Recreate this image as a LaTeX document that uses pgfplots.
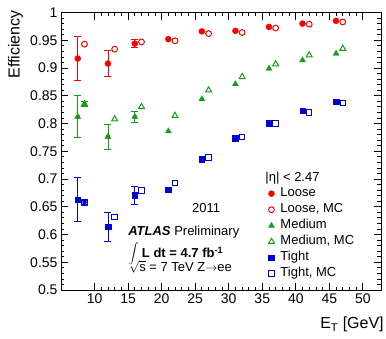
\documentclass[border=0pt]{standalone}
\usepackage{pgfplots}
\pgfplotsset{compat=1.18}
\usepackage{fontspec}
\setmainfont{Liberation Sans}
\definecolor{rred}{RGB}{250,0,0}
\definecolor{rgreen}{RGB}{20,160,20}
\definecolor{rblue}{RGB}{0,0,210}

\pgfplotstableread{
x y e
7.5 0.917 0.039
12 0.908 0.024
16 0.944 0.007
21 0.952 0
26 0.966 0
31 0.967 0
36 0.974 0
41 0.980 0
46 0.985 0
}\looseData
\pgfplotstableread{
x y e
8.5 0.943 0
13 0.934 0
17 0.947 0
22 0.949 0
27 0.962 0
32 0.964 0
37 0.972 0
42 0.979 0
47 0.983 0
}\looseMC
\pgfplotstableread{
x y e
7.5 0.812 0.038
12 0.776 0.023
16 0.812 0.010
21 0.786 0
26 0.844 0
31 0.871 0
36 0.899 0
41 0.914 0
46 0.926 0
}\mediumData
\pgfplotstableread{
x y e
8.5 0.835 0.004
13 0.808 0
17 0.830 0
22 0.814 0
27 0.860 0
32 0.884 0
37 0.907 0
42 0.923 0
47 0.935 0
}\mediumMC
\pgfplotstableread{
x y e
7.5 0.663 0.040
12 0.614 0.026
16 0.671 0.016
21 0.681 0
26 0.736 0
31 0.774 0
36 0.801 0
41 0.823 0
46 0.839 0
}\tightData
\pgfplotstableread{
x y e
8.5 0.658 0.004
13 0.631 0
17 0.679 0
22 0.693 0
27 0.739 0
32 0.776 0
37 0.800 0
42 0.820 0
47 0.837 0
}\tightMC

\begin{document}
\begin{tikzpicture}
\useasboundingbox (-61pt,-48pt) rectangle (325pt,290pt);
\begin{axis}[
  scale only axis, width=320pt, height=277.5pt,
  xmin=5, xmax=52.7, ymin=0.5, ymax=1,
  axis line style={line width=0.9pt},
  xtick={10,15,20,25,30,35,40,45,50}, minor x tick num=4,
  ytick={0.5,0.55,0.6,0.65,0.7,0.75,0.8,0.85,0.9,0.95,1},
  minor y tick num=4,
  major tick length=7pt, minor tick length=3.5pt,
  tick style={line width=0.8pt, black},
  /pgf/number format/assume math mode=true,
  yticklabel style={/pgf/number format/fixed, /pgf/number format/precision=2},
  tick label style={font=\fontsize{14}{16}\selectfont},
  ylabel={Efficiency},
  ylabel style={at={(axis description cs:-0.118,1.009)}, anchor=south east, inner sep=0pt, font=\fontsize{16}{18}\selectfont},
  xlabel={E\textsubscript{T} [GeV]},
  xlabel style={at={(axis description cs:1.009,-0.097)}, anchor=north east, inner sep=0pt, font=\fontsize{16}{18}\selectfont},
  legend style={at={(axis cs:35.9,0.6874)}, anchor=north west, draw=none, fill=none,
    inner sep=0pt, row sep=1pt, column sep=5pt,
    font=\fontsize{13}{15}\selectfont,
    nodes={inner sep=1pt, text height=9.5pt, text depth=3.5pt}},
  legend cell align=left,
  legend image code/.code={\draw[mark repeat=2,mark phase=2,#1] plot coordinates {(0pt,0pt) (5pt,0pt) (10pt,0pt)};},
  error bars/error bar style={line width=0.9pt},
  error bars/error mark options={rotate=90, line width=0.9pt, mark size=3.5pt},
]
% error bars only for the points whose uncertainty is visible
\addplot[forget plot, only marks, mark=none, rred, error bars/.cd, y dir=both, y explicit]
  table[x=x,y=y,y error=e] {
x y e
7.5 0.917 0.039
12 0.908 0.024
16 0.944 0.007
};
\addplot[forget plot, only marks, mark=none, rgreen, error bars/.cd, y dir=both, y explicit]
  table[x=x,y=y,y error=e] {
x y e
7.5 0.812 0.038
12 0.776 0.023
16 0.812 0.010
8.5 0.835 0.004
};
\addplot[forget plot, only marks, mark=none, rblue, error bars/.cd, y dir=both, y explicit]
  table[x=x,y=y,y error=e] {
x y e
7.5 0.663 0.040
12 0.614 0.026
16 0.671 0.016
8.5 0.658 0.004
};

\addplot[only marks, mark=*, rred, mark size=3pt] table[x=x,y=y] {\looseData};
\addlegendentry{Loose}
\addplot[only marks, mark=o, rred, mark size=2.9pt, mark options={line width=1pt}] table[x=x,y=y] {\looseMC};
\addlegendentry{Loose, MC}
\addplot[only marks, mark=triangle*, rgreen, mark size=3.4pt] table[x=x,y=y] {\mediumData};
\addlegendentry{Medium}
\addplot[only marks, mark=triangle, rgreen, mark size=3.4pt, mark options={line width=1pt}] table[x=x,y=y] {\mediumMC};
\addlegendentry{Medium, MC}
\addplot[only marks, mark=square*, rblue, mark size=2.8pt] table[x=x,y=y] {\tightData};
\addlegendentry{Tight}
\addplot[only marks, mark=square, rblue, mark size=2.7pt, mark options={line width=1pt}] table[x=x,y=y] {\tightMC};
\addlegendentry{Tight, MC}

\node[anchor=base west, inner sep=0pt, font=\fontsize{13}{15}\selectfont] at (axis cs:35.45,0.6964) {|η| < 2.47};
\node[anchor=center, inner sep=0pt, font=\fontsize{13}{15}\selectfont] at (axis cs:26.64,0.6477) {2011};
\node[anchor=base west, inner sep=0pt, font=\fontsize{13}{15}\selectfont] at (axis cs:15.0,0.599) {\textbf{\textit{ATLAS}} Preliminary};
\node[anchor=center, inner sep=0pt, font=\fontsize{12}{15}\selectfont] at (axis cs:15.85,0.5664) {$\displaystyle\int$};
\node[anchor=base west, inner sep=0pt, font=\fontsize{13}{15}\selectfont] at (axis cs:17.04,0.5577) {\textbf{L dt = 4.7 fb\textsuperscript{-1}}};
\node[anchor=base west, inner sep=0pt, font=\fontsize{13}{15}\selectfont] at (axis cs:15.15,0.5342) {$\sqrt{\mbox{s}}$ = 7 TeV Z$\rightarrow$ee};
\end{axis}
\end{tikzpicture}
\end{document}
